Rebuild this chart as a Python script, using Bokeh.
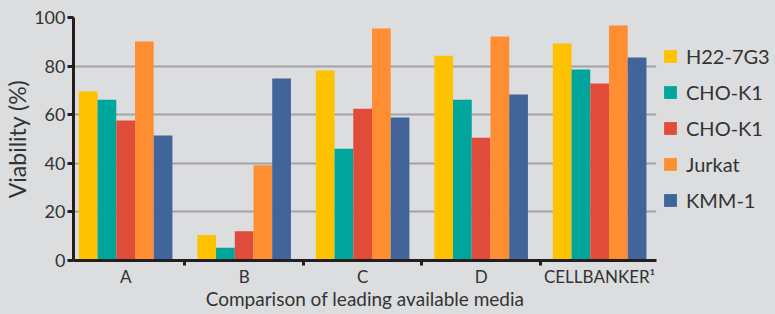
from bokeh.plotting import figure
from bokeh.models import (Range1d, FixedTicker, ColumnDataSource, Legend, LegendItem)
from bokeh.transform import dodge
from bokeh.embed import file_html
from bokeh.resources import INLINE

categories = ["A", "B", "C", "D", "CELLBANKER\u00b9"]
series_names = ["H22-7G3", "CHO-K1", "CHO-K1", "Jurkat", "KMM-1"]
h22_7g3 = [69.5, 10.5, 78.2, 84.3, 89.3]
cho_k1_a = [66.2, 5.2, 46.0, 66.2, 78.6]
cho_k1_b = [57.6, 12.0, 62.5, 50.5, 72.8]
jurkat = [90.1, 39.2, 95.5, 92.2, 96.7]
kmm_1 = [51.4, 74.9, 58.8, 68.3, 83.5]
y_ticks = [0, 20, 40, 60, 80, 100]
colors = ["#FFC200", "#00A69C", "#E04B3A", "#FF8E32", "#41649B"]

FONT = "Lato"
TXT = "#333333"
BG = "#DCDDDF"

x_pos = list(range(len(categories)))
src = ColumnDataSource(dict(x=x_pos, s0=h22_7g3, s1=cho_k1_a, s2=cho_k1_b, s3=jurkat, s4=kmm_1))

p = figure(frame_width=583, frame_height=243, x_range=Range1d(-0.44, 4.48), y_range=Range1d(0, 100),
           output_backend="svg", toolbar_location=None,
           min_border_left=60, min_border_right=0, min_border_top=17, min_border_bottom=38)
p.background_fill_color = BG
p.border_fill_color = BG
p.outline_line_color = None

bw = 0.158
items = []
for i, name in enumerate(series_names):
    r = p.vbar(x=dodge("x", (i - 2) * bw, range=p.x_range), top="s%d" % i, width=bw,
               bottom=0, source=src, fill_color=colors[i], line_color=None)
    items.append(LegendItem(label=name, renderers=[r]))

# grid
p.xgrid.visible = False
p.ygrid.grid_line_color = "#A3A3A5"
p.ygrid.grid_line_width = 2
p.ygrid.ticker = FixedTicker(ticks=y_ticks)

# y axis
ya = p.yaxis[0]
ya.ticker = FixedTicker(ticks=y_ticks)
ya.axis_line_color = "#231F20"
ya.axis_line_width = 3
ya.major_tick_line_color = "#231F20"
ya.major_tick_line_width = 3
ya.major_tick_out = 6
ya.major_tick_in = 0
ya.minor_tick_out = 0
ya.major_label_text_font = FONT
ya.major_label_text_font_size = "18px"
ya.major_label_text_color = TXT
ya.major_label_standoff = 2
ya.axis_label = "Viability (%)"
ya.axis_label_text_font = FONT
ya.axis_label_text_font_size = "23px"
ya.axis_label_text_font_style = "normal"
ya.axis_label_text_color = TXT
ya.axis_label_standoff = 0

# x axis
xa = p.xaxis[0]
xa.ticker = FixedTicker(ticks=x_pos, minor_ticks=[k + 0.5 for k in x_pos[:-1]])
xa.major_label_overrides = {k: c for k, c in zip(x_pos, categories)}
xa.axis_line_color = "#231F20"
xa.axis_line_width = 3
xa.major_tick_out = 0
xa.major_tick_in = 0
xa.minor_tick_line_color = "#231F20"
xa.minor_tick_line_width = 3
xa.minor_tick_out = 5
xa.minor_tick_in = 0
xa.major_label_text_font = FONT
xa.major_label_text_font_size = "17px"
xa.major_label_text_color = TXT
xa.major_label_standoff = 0
xa.axis_label = "Comparison of leading available media"
xa.axis_label_text_font = FONT
xa.axis_label_text_font_size = "19px"
xa.axis_label_text_font_style = "normal"
xa.axis_label_text_color = TXT
xa.axis_label_standoff = -3

legend = Legend(items=items, location=(6, 48))
legend.background_fill_alpha = 0
legend.border_line_color = None
legend.padding = 0
legend.margin = 0
legend.glyph_width = 16
legend.glyph_height = 16
legend.label_standoff = 8
legend.spacing = 12
legend.label_text_font = FONT
legend.label_text_font_size = "20px"
legend.label_text_color = TXT
p.add_layout(legend, "right")

html = file_html(p, INLINE)
html = html.replace("<head>", "<head><style>body{background:#DCDDDF;}</style>", 1)
open("out.html", "w").write(html)
